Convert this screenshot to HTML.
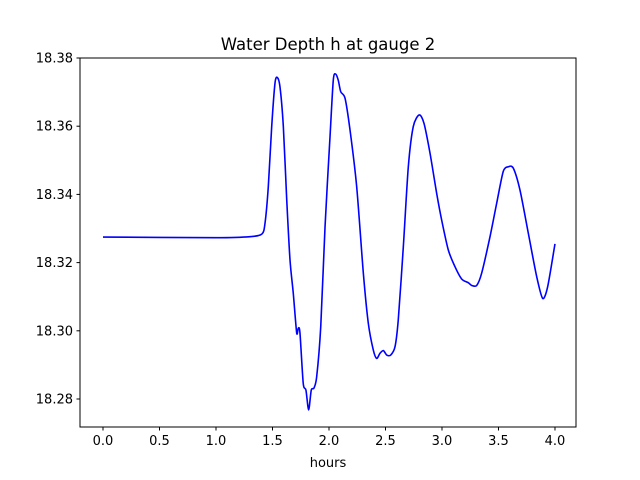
<!DOCTYPE html>
<html><head><meta charset="utf-8"><style>
html,body{margin:0;padding:0;background:#fff;}
svg{display:block;font-family:"DejaVu Sans","Liberation Sans",sans-serif;}
</style></head><body>
<svg id="chart" width="640" height="480" viewBox="0 0 640 480" xmlns="http://www.w3.org/2000/svg">
<rect x="0" y="0" width="640" height="480" fill="#fff"/>
<text x="328" y="50" text-anchor="middle" font-size="16.5">Water Depth h at gauge 2</text>
<g id="xticks"></g><g id="yticks"></g>
<path id="series" fill="none" stroke="#0000ff" stroke-width="1.6" stroke-linejoin="round"/>
<rect x="80" y="58" width="496" height="369" fill="none" stroke="#000" stroke-width="1"/>
<text x="328" y="467" text-anchor="middle" font-size="13">hours</text>
</svg>
<script>
const times = [0,1.0,1.301,1.407,1.434,1.463,1.493,1.522,1.542,1.566,1.596,1.626,1.655,1.684,1.714,1.728,1.743,1.772,1.796,1.820,1.843,1.867,1.891,1.927,1.965,2.009,2.038,2.059,2.082,2.104,2.142,2.186,2.245,2.304,2.348,2.392,2.422,2.451,2.481,2.511,2.546,2.584,2.613,2.658,2.702,2.746,2.799,2.841,2.894,2.953,2.997,3.056,3.115,3.174,3.233,3.263,3.307,3.351,3.425,3.484,3.542,3.587,3.631,3.690,3.764,3.838,3.891,3.935,4.0];
const depths = [18.3275,18.3273,18.3276,18.3284,18.3316,18.3423,18.3599,18.3726,18.3743,18.3716,18.3599,18.3384,18.3208,18.3110,18.2994,18.3008,18.2994,18.2846,18.2826,18.2768,18.2826,18.2832,18.2865,18.3012,18.3305,18.3569,18.3735,18.3753,18.3735,18.3701,18.3682,18.3589,18.3423,18.3169,18.3022,18.2944,18.2919,18.2934,18.2942,18.2929,18.2929,18.2953,18.3032,18.3247,18.3481,18.3599,18.3633,18.3608,18.3521,18.3403,18.3325,18.3237,18.3188,18.3152,18.3141,18.3133,18.3133,18.3169,18.3276,18.3374,18.3467,18.3481,18.3477,18.3413,18.3286,18.3159,18.3095,18.3129,18.3255];
const xTickLabels = ["0.0","0.5","1.0","1.5","2.0","2.5","3.0","3.5","4.0"];
const yTickLabels = ["18.28","18.30","18.32","18.34","18.36","18.38"];

const X0=80,X1=576,Y0=427,Y1=58;
const xMin=-0.2035,xMax=4.186,yMin=18.27179,yMax=18.38;
const xs=v=>X0+(v-xMin)/(xMax-xMin)*(X1-X0);
const ys=v=>Y0-(v-yMin)/(yMax-yMin)*(Y0-Y1);
const NS="http://www.w3.org/2000/svg";
const P=times.map((t,i)=>[xs(t),ys(depths[i])]);
let d='M'+P[0][0].toFixed(2)+','+P[0][1].toFixed(2);
for(let i=0;i<P.length-1;i++){
 const p0=P[Math.max(0,i-1)],p1=P[i],p2=P[i+1],p3=P[Math.min(P.length-1,i+2)];
 const k=1/6*0.8;
 const c1=[p1[0]+(p2[0]-p0[0])*k,p1[1]+(p2[1]-p0[1])*k];
 const c2=[p2[0]-(p3[0]-p1[0])*k,p2[1]-(p3[1]-p1[1])*k];
 d+=' C'+c1[0].toFixed(2)+','+c1[1].toFixed(2)+' '+c2[0].toFixed(2)+','+c2[1].toFixed(2)+' '+p2[0].toFixed(2)+','+p2[1].toFixed(2);
}
document.getElementById('series').setAttribute('d',d);
const xg=document.getElementById('xticks'), yg=document.getElementById('yticks');
xTickLabels.forEach(l=>{const x=xs(parseFloat(l));
 const tk=document.createElementNS(NS,'line');
 
 
 tk.setAttribute('x1',x);tk.setAttribute('x2',x);tk.setAttribute('y1',Y0);tk.setAttribute('y2',Y0+3.5);tk.setAttribute('stroke','#000');xg.appendChild(tk);
 const tx=document.createElementNS(NS,'text');
 
 
 tx.setAttribute('x',x);tx.setAttribute('y',445);tx.setAttribute('text-anchor','middle');tx.setAttribute('font-size','13');tx.textContent=l;xg.appendChild(tx);});
yTickLabels.forEach(l=>{const y=ys(parseFloat(l));
 const tk=document.createElementNS(NS,'line');
 
 
 tk.setAttribute('x1',X0-3.5);tk.setAttribute('x2',X0);tk.setAttribute('y1',y);tk.setAttribute('y2',y);tk.setAttribute('stroke','#000');yg.appendChild(tk);
 const tx=document.createElementNS(NS,'text');
 
 
 tx.setAttribute('x',X0-7);tx.setAttribute('y',y+4.5);tx.setAttribute('text-anchor','end');tx.setAttribute('font-size','13');tx.textContent=l;yg.appendChild(tx);});
</script>
</body></html>
